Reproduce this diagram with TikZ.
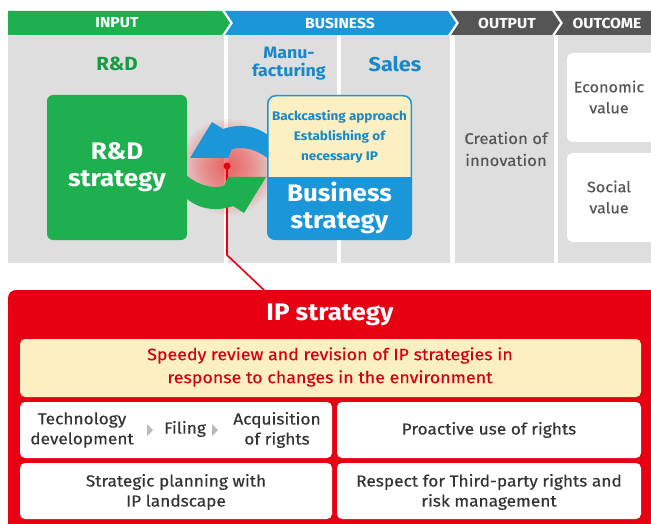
\documentclass[tikz,border=0pt]{standalone}
\usepackage{fontspec}
\setmainfont{Fira Sans}[FakeStretch=1.08]
\newfontfamily\medfont{Fira Sans}[FakeStretch=1.08, FakeBold=0.35]
\usetikzlibrary{arrows.meta}
\definecolor{cgreen}{HTML}{1EAF4E}
\definecolor{cgreenT}{HTML}{179A45}
\definecolor{cblue}{HTML}{1A96D9}
\definecolor{cblueT}{HTML}{1A88C6}
\definecolor{cdark}{HTML}{555555}
\definecolor{cpanel}{HTML}{DEDEDE}
\definecolor{cred}{HTML}{E60012}
\definecolor{cyel}{HTML}{FCF0C2}
\definecolor{ctext}{HTML}{333333}
\definecolor{cgrayT}{HTML}{555555}
\definecolor{credT}{HTML}{D40010}
\def\mycyclepath{(270,137) .. controls (258,126) and (240,123) .. (223,129)
      -- (212,122) -- (190,158) -- (228,158) -- (232,149)
      .. controls (245,146) and (258,150) .. (270,160) -- cycle}
\tikzset{
  bannertxt/.style={font=\bfseries\fontsize{14.5}{15}\selectfont, text=white},
  panel/.style={fill=cpanel},
  coltitle/.style={font=\bfseries\fontsize{19}{20}\selectfont},
  bigwhite/.style={font=\bfseries\fontsize{24}{27}\selectfont, text=white},
  greytxt/.style={font=\medfont\fontsize{15}{21}\selectfont, text=cgrayT},
  whitebox/.style={fill=white, rounded corners=6pt},
  itembox/.style={fill=white, rounded corners=5pt, minimum width=#1, minimum height=56pt},
  itemtxt/.style={font=\medfont\fontsize{16}{20}\selectfont, text=ctext},
  sep/.style={fill=gray!55},
}
\begin{document}
\begin{tikzpicture}[x=1pt,y=-1pt, every node/.style={inner sep=0pt, align=center}]
\useasboundingbox (0,0) rectangle (651,524);
\fill[white] (0,0) rectangle (651,524);

% banner
\fill[cgreen] (8,11) -- (222,11) -- (230,23) -- (222,35) -- (8,35) -- cycle;
\fill[cblue] (225,11) -- (448,11) -- (456,23) -- (448,35) -- (225,35) -- (233,23) -- cycle;
\fill[cdark] (451,11) -- (552,11) -- (560,23) -- (552,35) -- (451,35) -- (459,23) -- cycle;
\fill[cdark] (555,11) -- (655,11) -- (655,35) -- (555,35) -- (563,23) -- cycle;
\node[bannertxt] (bin) at (117,23) {INPUT};
\node[bannertxt] (bbus) at (340,23) {BUSINESS};
\node[bannertxt] (bout) at (507,23) {OUTPUT};
\node[bannertxt] (boc) at (607,23) {OUTCOME};

% panels
\fill[panel] (8,35) rectangle (224,263);
\fill[panel] (228,35) rectangle (337,263);
\fill[panel] (341,35) rectangle (450,263);
\fill[panel] (455,35) rectangle (554,263);
\fill[panel] (558,35) rectangle (655,263);

\node[coltitle, text=cgreenT] (trd) at (117,64) {R\&D};
\node[font=\bfseries\fontsize{16.5}{18}\selectfont, text=cblueT] (tman) at (289,64) {Manu-\\facturing};
\node[font=\bfseries\fontsize{20}{22}\selectfont, text=cblueT] (tsal) at (395,64) {Sales};

% glow
\foreach \r in {48,46,...,4} \fill[red!80, opacity=0.045] (228,167) circle (\r);

% red connector
\coordinate (pin) at (227,166);
\coordinate (bend) at (227,255);
\coordinate (iptop) at (265,291);
\draw[cred, line width=1.6pt] (pin) -- (bend) -- (iptop);
\fill[cred] (pin) circle (3.5);

% cycle arrows
\fill[cblue] \mycyclepath;
\fill[cgreen, rotate around={180:(228,167.5)}] \mycyclepath;

% R&D strategy box
\node[fill=cgreen, rounded corners=6pt, minimum width=140pt, minimum height=145pt, bigwhite] (rd) at (117,167.5) {R\&D\\strategy};

% Business strategy box
\begin{scope}
  \clip[rounded corners=8pt] (267,95) rectangle (412,240);
  \fill[cblue] (267,95) rectangle (412,240);
  \fill[cyel] (267,95) rectangle (412,177);
\end{scope}
\draw[cblue, line width=1.5pt, rounded corners=8pt] (267.75,95.75) rectangle (411.25,239.25);
\node[font=\bfseries\fontsize{12.5}{20}\selectfont, text=cblueT] (bsub) at (339.5,137) {Backcasting approach\\Establishing of\\necessary IP};
\node[bigwhite] (bs) at (339.5,208) {Business\\strategy};

% output / outcome
\node[greytxt, font=\medfont\fontsize{15.5}{22}\selectfont] (inno) at (506,149) {Creation of\\innovation};
\fill[whitebox] (567,53) rectangle (660,142);
\fill[whitebox] (567,153) rectangle (660,242);
\node[greytxt] (econ) at (609,97) {Economic\\value};
\node[greytxt] (soc) at (609,197) {Social\\value};

% IP strategy
\fill[cred, rounded corners=8pt] (8,290) rectangle (670,540);
\node[font=\bfseries\fontsize{24}{26}\selectfont, text=white] (ip) at (330,315) {IP strategy};
\fill[cyel, rounded corners=5pt] (20,339) rectangle (641,397);
\node[font=\medfont\fontsize{16.5}{23}\selectfont, text=credT] (speedy) at (330,367) {Speedy review and revision of IP strategies in\\response to changes in the environment};

\node[itembox=312pt] (b1) at (176,430) {};
\node[itembox=304pt] (b2) at (489,430) {};
\node[itembox=312pt] (b3) at (176,491) {};
\node[itembox=304pt] (b4) at (489,491) {};

\node[itemtxt] (tech) at (82,430) {Technology\\development};
\fill[sep] (147,424) -- (153,430) -- (147,436) -- cycle;
\node[itemtxt] (fil) at (185,429) {Filing};
\fill[sep] (212,424) -- (218,430) -- (212,436) -- cycle;
\node[itemtxt] (acq) at (277,430) {Acquisition\\of rights};
\node[itemtxt] (pro) at (489,430) {Proactive use of rights};
\node[itemtxt] (stp) at (176,492) {Strategic planning with\\IP landscape};
\node[itemtxt] (res) at (489,492) {Respect for Third-party rights and\\risk management};
\end{tikzpicture}
\end{document}
